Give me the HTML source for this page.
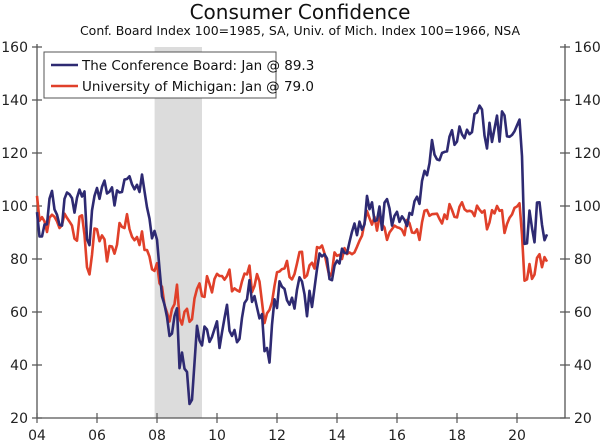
<!DOCTYPE html>
<html><head><meta charset="utf-8"><style>
body{margin:0;background:#fff;}
svg{display:block;font-family:"DejaVu Sans","Liberation Sans",sans-serif;}
</style></head><body>
<svg id="chart" width="600" height="442" viewBox="0 0 600 442">
<text x="300" y="19" text-anchor="middle" font-size="20" fill="#111">Consumer Confidence</text>
<text x="300" y="35" text-anchor="middle" font-size="12.5" fill="#111">Conf. Board Index 100=1985, SA, Univ. of Mich. Index 100=1966, NSA</text>
<g id="plot"></g>
</svg>
<script>
const yTicks=[20,40,60,80,100,120,140,160];
const xTickLabels=["04","06","08","10","12","14","16","18","20"];
const recession=[2007.92,2009.5];
const confBoard=[97.7,88.5,88.5,93.0,93.1,102.8,105.7,98.7,96.7,92.9,92.6,102.7,
105.1,104.4,103.0,97.5,103.1,106.2,103.6,105.5,87.5,85.2,98.3,103.8,
106.8,102.7,107.2,109.6,104.7,105.4,107.0,100.2,105.9,105.1,105.3,110.0,
110.2,111.2,108.2,106.3,108.0,105.3,111.9,105.6,99.5,95.2,87.8,90.6,
87.3,76.4,65.9,62.8,58.1,51.0,51.9,58.5,61.4,38.8,44.7,38.6,
37.4,25.3,26.9,40.8,54.8,49.3,47.4,54.5,53.4,48.7,50.6,53.6,
56.5,46.4,52.3,57.7,62.7,52.9,51.0,53.2,48.6,49.9,57.8,63.4,
64.8,72.0,63.8,66.0,61.7,57.6,59.2,45.2,46.4,40.9,55.2,64.8,
61.5,71.6,69.5,68.7,64.4,62.7,65.4,61.3,68.4,73.1,71.5,66.7,
58.4,68.0,61.9,69.0,76.2,82.1,81.0,81.8,80.2,72.4,72.0,77.5,
79.4,78.3,83.9,82.3,82.2,86.4,90.3,93.4,89.0,94.1,91.0,93.1,
103.8,98.8,101.4,94.3,94.6,99.8,91.0,101.3,102.6,99.1,92.6,96.3,
97.8,94.0,96.1,94.7,92.4,97.4,96.7,101.8,103.5,100.8,109.4,113.3,
111.6,116.1,124.9,119.4,117.6,117.3,120.0,120.4,120.6,126.2,128.6,123.1,
124.3,130.0,127.0,125.6,128.8,127.1,127.9,134.7,135.3,137.9,136.4,126.6,
121.7,131.4,124.2,129.2,134.1,124.3,135.7,134.2,126.3,126.1,126.8,128.2,
130.4,132.6,118.8,85.7,85.9,98.3,91.7,86.3,101.3,101.4,92.9,87.1,
89.3];
const michigan=[103.8,94.4,95.8,94.2,90.2,95.6,96.7,95.9,94.2,91.7,92.8,97.1,
95.5,94.1,92.6,87.7,86.9,96.0,96.5,89.1,76.9,74.2,81.6,91.5,
91.2,86.7,88.9,87.4,79.1,84.9,84.7,82.0,85.4,93.6,92.1,91.7,
96.9,91.3,88.4,87.1,88.3,85.3,90.4,83.4,83.4,80.9,76.1,75.5,
78.4,70.8,69.5,62.6,59.8,56.4,61.2,63.0,70.3,57.6,55.3,60.1,
61.2,56.3,57.3,65.1,68.7,70.8,66.0,65.7,73.5,70.6,67.4,72.5,
74.4,73.6,73.6,72.2,73.6,76.0,67.8,68.9,68.2,67.7,71.6,74.5,
74.2,77.5,67.5,69.8,74.3,71.5,63.7,55.8,59.5,60.8,63.7,69.9,
75.0,75.3,76.2,76.4,79.3,73.2,72.3,74.3,78.3,82.6,82.7,72.9,
73.8,77.6,78.6,76.4,84.5,84.1,85.1,82.1,77.5,73.2,75.1,82.5,
81.2,81.6,80.0,84.1,81.9,82.5,81.8,82.5,84.6,86.9,88.8,93.6,
98.1,95.4,93.0,95.9,90.7,96.1,93.1,91.9,87.2,90.0,91.3,92.6,
92.0,91.7,91.0,89.0,94.7,93.5,90.0,89.8,91.2,87.2,93.8,98.2,
98.5,96.3,96.9,97.0,97.1,95.1,93.4,96.8,95.1,100.7,98.5,95.9,
95.7,99.7,101.4,98.8,98.0,98.2,97.9,96.2,100.1,98.6,97.5,98.3,
91.2,93.8,98.4,97.2,100.0,98.2,98.4,89.8,93.2,95.5,96.8,99.3,
99.8,101.0,89.1,71.8,72.3,78.1,72.5,74.1,80.4,81.8,76.9,80.7,
79.0];
const L=37,R=565,T=47,B=418;
const x=t=>L+(t-2004)*30;
const y=v=>B-(v-20)*(B-T)/140;
const ns="http://www.w3.org/2000/svg";
const g=document.getElementById('plot');
function mk(tag,attrs,parent){const e=document.createElementNS(ns,tag);for(const k in attrs)e.setAttribute(k,attrs[k]);(parent||g).appendChild(e);return e;}
const rec=mk('rect',{x:x(recession[0]),y:T,width:x(recession[1])-x(recession[0]),height:B-T,fill:'#dcdcdc'});


const ax=mk('path',{d:`M${L},${T-3}V${B}H${R}V${T-3}`,stroke:'#555',fill:'none','stroke-width':1.3});


yTicks.forEach(v=>{
  mk('path',{d:`M${L-5},${y(v)}H${L+5}M${R-5},${y(v)}H${R+5}`,stroke:'#555','stroke-width':1.2});
  const a=mk('text',{x:L-9,y:y(v)+5,'text-anchor':'end','font-size':14,fill:'#222'});a.textContent=v;
  
  
  const b=mk('text',{x:R+9,y:y(v)+5,'font-size':14,fill:'#222'});b.textContent=v;
  
  
});
xTickLabels.forEach((s,i)=>{
  const xx=x(2004+2*i);
  mk('path',{d:`M${xx},${B-5}V${B+5}`,stroke:'#555','stroke-width':1.2});
  const t=mk('text',{x:xx,y:B+22,'text-anchor':'middle','font-size':14,fill:'#222'});t.textContent=s;
  
  
});
function line(data,color,name){
  const d=data.map((v,i)=>(i?'L':'M')+x(2004+i/12).toFixed(1)+','+y(v).toFixed(1)).join('');
  const p=mk('path',{d,stroke:color,fill:'none','stroke-width':2.6,'stroke-linejoin':'round'});
  
  
}
line(michigan,'#e0402a','michigan-line');
line(confBoard,'#2e2a72','conference-board-line');
const lg=mk('g',{});


mk('rect',{x:44,y:52,width:232,height:46,fill:'#fff',stroke:'#555','stroke-width':1},lg);
mk('path',{d:'M51,65H78',stroke:'#2e2a72','stroke-width':2.6},lg);
mk('path',{d:'M51,86H78',stroke:'#e0402a','stroke-width':2.6},lg);
const l1=mk('text',{x:82,y:70,'font-size':13.5,fill:'#111'},lg);l1.textContent='The Conference Board: Jan @ 89.3';


const l2=mk('text',{x:82,y:91,'font-size':13.5,fill:'#111'},lg);l2.textContent='University of Michigan: Jan @ 79.0';


</script>
</body></html>
